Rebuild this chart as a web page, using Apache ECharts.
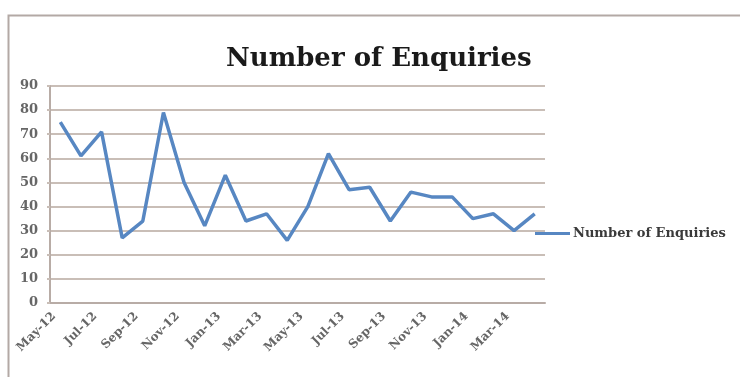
<!DOCTYPE html>
<html>
<head>
<meta charset="utf-8">
<script src="https://cdn.jsdelivr.net/npm/echarts@6/dist/echarts.min.js"></script>
<style>
  html, body { margin: 0; padding: 0; background: #ffffff; }
  #chart { width: 740px; height: 377px; }
</style>
</head>
<body>
<div id="chart"></div>
<script>
// Monthly enquiry counts, May 2012 – April 2014
const months = [
  'May-12', 'Jun-12', 'Jul-12', 'Aug-12', 'Sep-12', 'Oct-12', 'Nov-12', 'Dec-12',
  'Jan-13', 'Feb-13', 'Mar-13', 'Apr-13', 'May-13', 'Jun-13', 'Jul-13', 'Aug-13',
  'Sep-13', 'Oct-13', 'Nov-13', 'Dec-13', 'Jan-14', 'Feb-14', 'Mar-14', 'Apr-14'
];
const enquiries = [
  75, 61, 71, 27, 34, 79, 50, 32,
  53, 34, 37, 26, 40, 62, 47, 48,
  34, 46, 44, 44, 35, 37, 30, 37
];
const seriesName = 'Number of Enquiries';
const yTicks = { min: 0, max: 90, step: 10 };

const chart = echarts.init(document.getElementById('chart'), null, { renderer: 'canvas' });

const labelFont = '"DejaVu Serif", serif';
const gridColor = '#c9beb7';
const lineColor = '#5787c2';

chart.setOption({
  backgroundColor: '#ffffff',
  animation: false,
  title: {
    text: seriesName,
    left: 221,
    top: 41,
    textStyle: {
      fontFamily: labelFont,
      fontWeight: 'bold',
      fontSize: 26,
      color: '#1a1a1a'
    }
  },
  legend: {
    data: [{ name: seriesName, icon: 'rect' }],
    left: 530,
    top: 222,
    itemWidth: 35,
    itemHeight: 3,
    itemGap: 4,
    itemStyle: { color: lineColor },
    textStyle: {
      fontFamily: labelFont,
      fontSize: 13,
      fontWeight: 'bold',
      color: '#3a3a3a',
      padding: [0, 0, 0, -2]
    }
  },
  grid: {
    left: 50,
    right: 195,
    top: 86,
    bottom: 74,
    containLabel: false
  },
  xAxis: {
    type: 'category',
    data: months,
    boundaryGap: true,
    axisLine: { lineStyle: { color: '#b8aca6', width: 2 } },
    axisTick: { interval: 1, length: 4, lineStyle: { color: '#b8aca6', width: 1 } },
    axisLabel: {
      interval: 1,
      rotate: 45,
      margin: 5,
      padding: [0, 9, 17, 0],
      fontFamily: labelFont,
      fontWeight: 'bold',
      fontSize: 12,
      color: '#666666'
    },
    splitLine: { show: false }
  },
  yAxis: {
    type: 'value',
    min: yTicks.min,
    max: yTicks.max,
    interval: yTicks.step,
    axisLine: { show: true, lineStyle: { color: '#b8aca6', width: 2 } },
    axisTick: { show: true, length: 3, lineStyle: { color: gridColor, width: 2 } },
    axisLabel: {
      margin: 12,
      fontFamily: labelFont,
      fontWeight: 'bold',
      fontSize: 13,
      color: '#666666'
    },
    splitLine: { lineStyle: { color: gridColor, width: 2 } }
  },
  series: [{
    name: seriesName,
    type: 'line',
    data: enquiries,
    symbol: 'none',
    lineStyle: { color: lineColor, width: 3.5 },
    itemStyle: { color: lineColor }
  }],
  graphic: [
    {
      type: 'polyline',
      silent: true,
      shape: { points: [[8.5, 377], [8.5, 15.5], [740, 15.5]] },
      style: { stroke: '#b3a9a5', lineWidth: 2, fill: null }
    }
  ]
});
</script>
</body>
</html>
